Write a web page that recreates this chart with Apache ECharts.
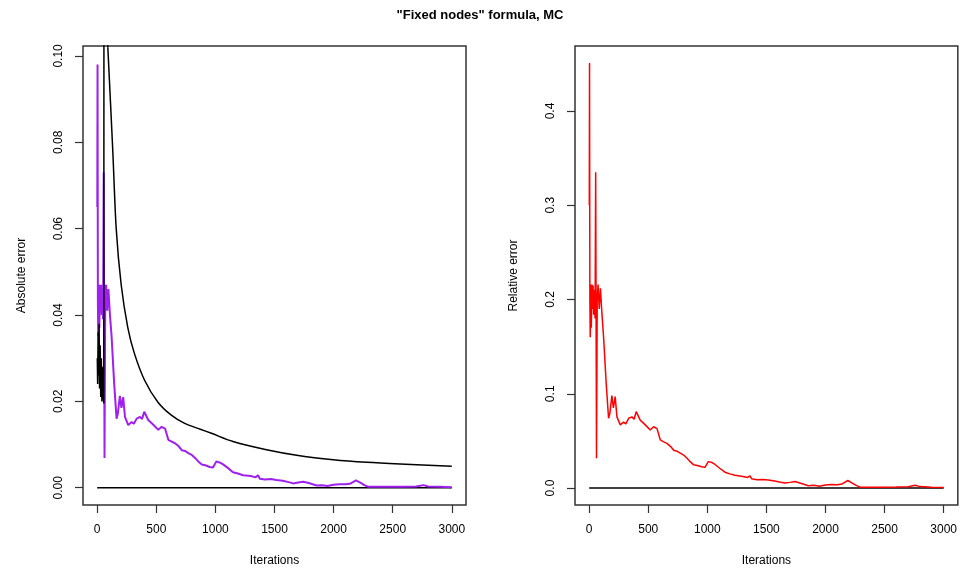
<!DOCTYPE html>
<html>
<head>
<meta charset="utf-8">
<script src="https://cdn.jsdelivr.net/npm/echarts@6/dist/echarts.min.js"></script>
<style>
  html, body { margin: 0; padding: 0; background: #fff; }
  #chart { width: 960px; height: 572px; }
</style>
</head>
<body>
<div id="chart"></div>
<script>
var iterPts = [1, 3, 6, 9, 14, 18, 23, 28, 33, 38, 44, 50, 55, 62, 68, 75, 85, 95, 108, 122,
  144, 164, 175, 192, 205, 220, 235, 263, 291, 310, 334, 362, 380, 398, 432, 475, 517, 545, 574, 602,
  630, 658, 690, 715, 745, 771, 800, 828, 855, 885, 915, 952, 980, 1008, 1040, 1065, 1105, 1149, 1190, 1234,
  1300, 1340, 1361, 1375, 1420, 1470, 1516, 1570, 1620, 1658, 1700, 1742, 1790, 1855, 1900, 1950, 1997, 2050, 2100, 2138,
  2189, 2230, 2260, 2294, 2400, 2500, 2600, 2700, 2760, 2800, 2900, 3000];

// absolute error (purple)
var absErr = [0.065, 0.098, 0.043, 0.035, 0.047, 0.037, 0.047, 0.041, 0.047, 0.040, 0.046, 0.039, 0.073, 0.0069, 0.043, 0.047, 0.041, 0.046, 0.040, 0.035,
  0.024, 0.016, 0.0172, 0.0213, 0.0185, 0.021, 0.0164, 0.0145, 0.0152, 0.0148, 0.016, 0.0164, 0.0159, 0.0176, 0.0157, 0.0146, 0.0134, 0.0141, 0.0137, 0.0111,
  0.0107, 0.0103, 0.0096, 0.0087, 0.0085, 0.008, 0.0076, 0.0069, 0.0061, 0.0054, 0.0052, 0.0048, 0.0047, 0.0061, 0.0058, 0.0054, 0.0046, 0.0036, 0.0033, 0.0029,
  0.0027, 0.0024, 0.0029, 0.0021, 0.0019, 0.002, 0.0018, 0.0016, 0.0013, 0.001, 0.0012, 0.0014, 0.0011, 0.0005, 0.0006, 0.0004, 0.0007, 0.0008, 0.0008, 0.0009,
  0.0017, 0.0011, 0.0006, 0.0002, 0.0002, 0.0002, 0.0002, 0.0003, 0.0006, 0.0003, 0.0002, 0.0001];

// relative error (red)
var relErr = [0.30, 0.451, 0.20, 0.16, 0.216, 0.17, 0.216, 0.19, 0.215, 0.184, 0.21, 0.18, 0.335, 0.0316, 0.20, 0.216, 0.19, 0.212, 0.185, 0.16,
  0.111, 0.074, 0.079, 0.098, 0.085, 0.097, 0.0755, 0.067, 0.070, 0.068, 0.074, 0.0755, 0.073, 0.081, 0.072, 0.067, 0.0615, 0.065, 0.063, 0.051,
  0.049, 0.0474, 0.044, 0.040, 0.039, 0.037, 0.035, 0.0316, 0.028, 0.0246, 0.024, 0.0225, 0.022, 0.028, 0.027, 0.025, 0.021, 0.0168, 0.015, 0.0135,
  0.0123, 0.0112, 0.013, 0.0098, 0.0088, 0.009, 0.0085, 0.0075, 0.0062, 0.0053, 0.006, 0.007, 0.005, 0.0025, 0.003, 0.0018, 0.0033, 0.0037, 0.0036, 0.0042,
  0.008, 0.005, 0.0028, 0.0009, 0.0008, 0.0008, 0.001, 0.0014, 0.003, 0.0015, 0.0008, 0.0005];

// black bound, left panel: noisy start, jump off the top at ~60, back in at ~90
var noiseIter = [1, 4, 8, 12, 16, 20, 25, 30, 35, 40, 45, 50, 56, 60, 90];
var noiseVal = [0.030, 0.024, 0.036, 0.026, 0.038, 0.023, 0.033, 0.021, 0.030, 0.020, 0.028, 0.022, 0.0195, 0.35, 0.102];

// black bound, left panel: decaying curve
var curveIter = [90, 132, 161, 203, 259, 316, 401, 514, 627, 740, 867, 966, 1149, 1432, 1714, 1997, 2280, 2562, 3000];
var curveVal = [0.102, 0.078, 0.060, 0.047, 0.0371, 0.031, 0.0249, 0.0198, 0.0168, 0.0149, 0.0136, 0.0126, 0.0107, 0.0088, 0.0074, 0.0065, 0.0059, 0.0055, 0.005];

// zero reference line
var zeroIter = [0, 3000];
var zeroVal = [0, 0];

// tick values
var xTicks = [0, 500, 1000, 1500, 2000, 2500, 3000];
var absTicks = [0, 0.02, 0.04, 0.06, 0.08, 0.10];
var relTicks = [0, 0.1, 0.2, 0.3, 0.4];

function pairs(xs, ys) {
  var out = [];
  for (var i = 0; i < xs.length; i++) {
    out.push([xs[i], ys[i]]);
  }
  return out;
}

var font = 'Liberation Sans, Arial, Helvetica, sans-serif';
var boxColor = '#333';

function xAxisFor(idx) {
  return {
    type: 'value',
    gridIndex: idx,
    min: -120,
    max: 3120,
    name: 'Iterations',
    nameLocation: 'middle',
    nameGap: 50,
    nameTextStyle: { fontFamily: font, fontSize: 12, color: '#000' },
    axisLine: { show: false, onZero: false },
    splitLine: { show: false },
    axisTick: { show: true, length: 8, customValues: xTicks, lineStyle: { color: boxColor, width: 1.2 } },
    axisLabel: {
      customValues: xTicks, margin: 19, fontFamily: font, fontSize: 12, color: '#000',
      formatter: function (v) { return String(v); }
    }
  };
}

function yAxisFor(idx, name, lo, hi, ticks, digits) {
  return {
    type: 'value',
    gridIndex: idx,
    min: lo,
    max: hi,
    name: name,
    nameLocation: 'middle',
    nameRotate: 90,
    nameGap: 55,
    nameTextStyle: { fontFamily: font, fontSize: 12, color: '#000' },
    axisLine: { show: false, onZero: false },
    splitLine: { show: false },
    axisTick: { show: true, length: 8, customValues: ticks, lineStyle: { color: boxColor, width: 1.2 } },
    axisLabel: {
      customValues: ticks,
      rotate: 90,
      margin: 18,
      fontFamily: font,
      fontSize: 12,
      color: '#000',
      formatter: function (v) { return Number(v).toFixed(digits); }
    }
  };
}

var myChart = echarts.init(document.getElementById('chart'));

var option = {
  animation: false,
  backgroundColor: '#fff',
  title: {
    text: '"Fixed nodes" formula, MC',
    left: 'center',
    top: 4,
    textStyle: { fontFamily: font, fontSize: 13, fontWeight: 'bold', color: '#000' }
  },
  grid: [
    { left: 83, top: 46, width: 383, height: 462, show: true, borderColor: boxColor, borderWidth: 1.5, backgroundColor: 'transparent' },
    { left: 575, top: 46, width: 383, height: 462, show: true, borderColor: boxColor, borderWidth: 1.5, backgroundColor: 'transparent' }
  ],
  xAxis: [xAxisFor(0), xAxisFor(1)],
  yAxis: [
    yAxisFor(0, 'Absolute error', -0.004, 0.1023, absTicks, 2),
    yAxisFor(1, 'Relative error', -0.018, 0.469, relTicks, 1)
  ],
  series: [
    {
      type: 'line', xAxisIndex: 0, yAxisIndex: 0, symbol: 'none', clip: true,
      lineStyle: { color: '#000', width: 1.5 },
      data: pairs(zeroIter, zeroVal)
    },
    {
      type: 'line', xAxisIndex: 0, yAxisIndex: 0, symbol: 'none', clip: true,
      lineStyle: { color: '#A020F0', width: 2 },
      data: pairs(iterPts, absErr)
    },
    {
      type: 'line', xAxisIndex: 0, yAxisIndex: 0, symbol: 'none', clip: true,
      lineStyle: { color: '#000', width: 1.5 },
      data: pairs(noiseIter, noiseVal)
    },
    {
      type: 'line', xAxisIndex: 0, yAxisIndex: 0, symbol: 'none', clip: true,
      smooth: 0.3,
      lineStyle: { color: '#000', width: 1.5 },
      data: pairs(curveIter, curveVal)
    },
    {
      type: 'line', xAxisIndex: 1, yAxisIndex: 1, symbol: 'none', clip: true,
      lineStyle: { color: '#000', width: 1.5 },
      data: pairs(zeroIter, zeroVal)
    },
    {
      type: 'line', xAxisIndex: 1, yAxisIndex: 1, symbol: 'none', clip: true,
      lineStyle: { color: '#FF0000', width: 1.5 },
      data: pairs(iterPts, relErr)
    }
  ]
};

myChart.setOption(option);
</script>
</body>
</html>
